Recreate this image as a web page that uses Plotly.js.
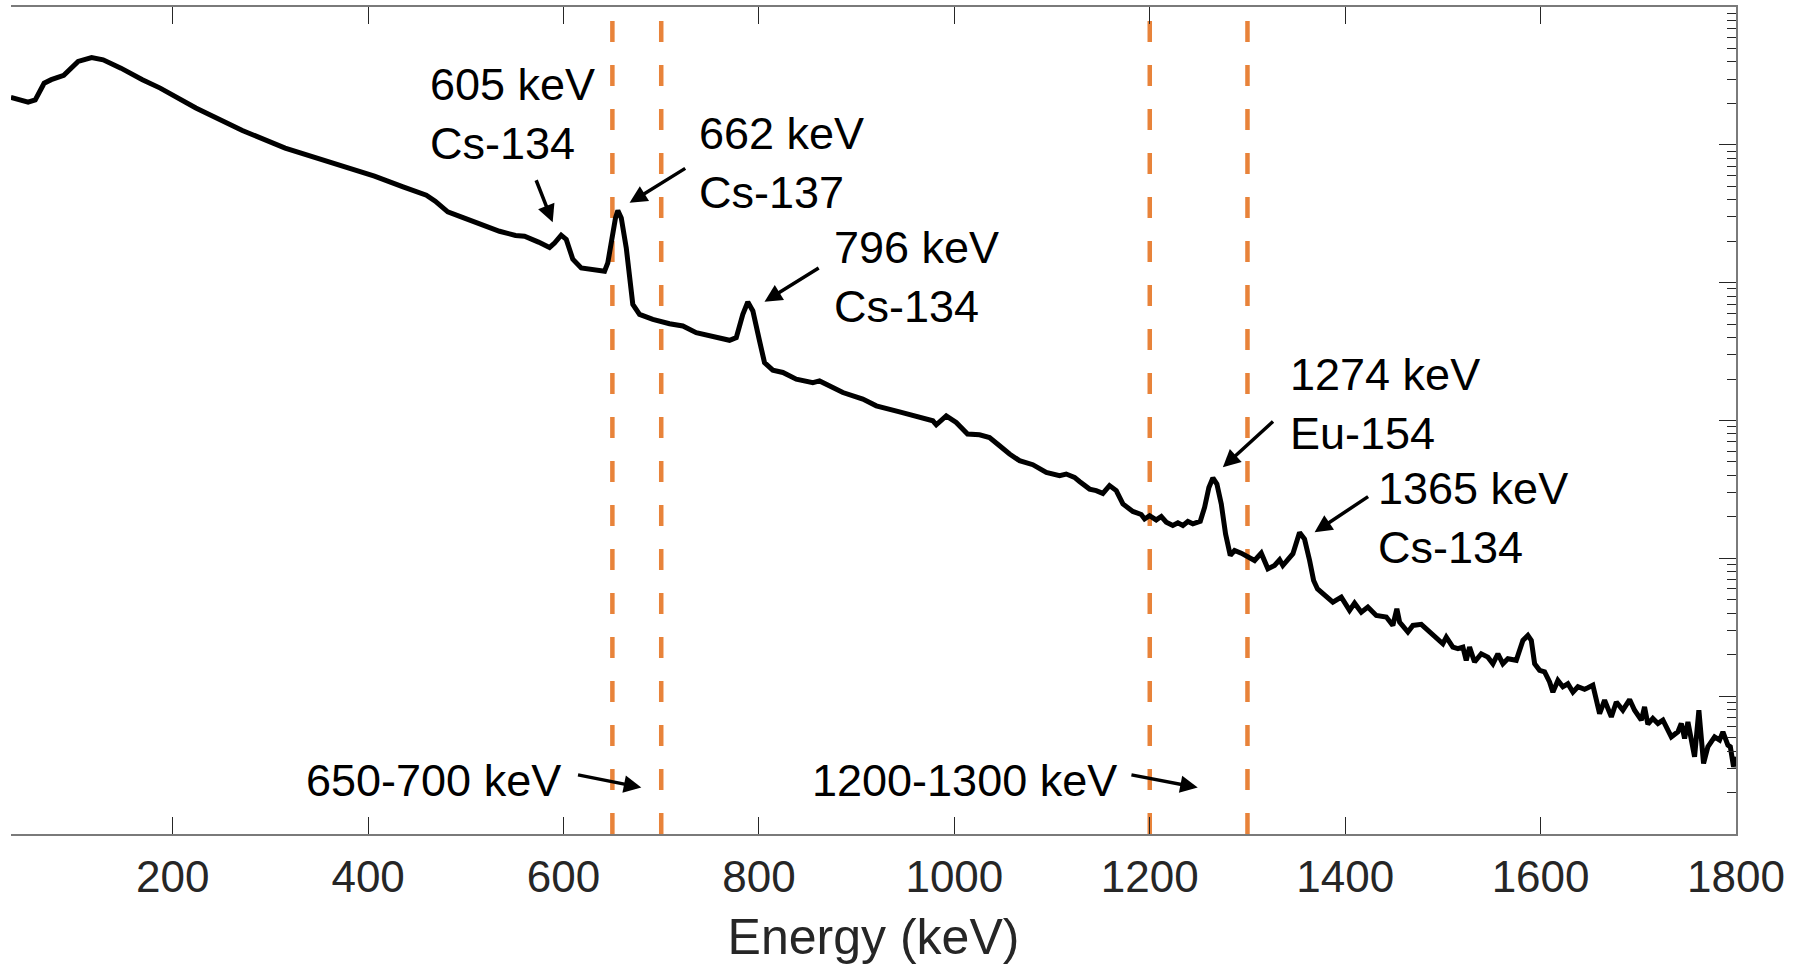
<!DOCTYPE html>
<html><head><meta charset="utf-8">
<script src="https://cdn.plot.ly/plotly-3.0.1.min.js"></script>
<style>html,body{margin:0;padding:0;background:#fff;} #chart{width:1796px;height:967px;}</style>
</head><body><div id="chart"></div>
<script>
// Energy (keV) and counts (arbitrary log-scale units)
const energy = [
 34.4, 52.0, 59.3, 68.4, 75.7, 88.5, 103.2, 117.0, 128.8, 147.0,
 169.0, 187.2, 223.7, 271.3, 315.1, 359.1, 406.5, 435.8, 459.6, 468.7,
 481.5, 497.9, 516.2, 534.5, 550.9, 560.1,
 574.4, 585.7, 590.8, 597.6, 602.8, 609.5, 618.1, 628.4, 636.8, 642.0,
 645.3, 648.8, 653.2, 655.6, 659.1, 664.2, 667.6, 670.9, 677.8, 691.4,
 708.5, 722.1, 735.8, 752.8, 769.9, 776.8, 783.5, 788.6, 793.8, 800.6,
 805.7, 814.2, 824.5, 838.2, 855.2, 862.0, 872.3, 885.9, 906.3, 920.1,
 943.9, 959.3, 978.0, 981.5, 991.7, 1001.9, 1013.5, 1025.8, 1036.0, 1046.3,
 1056.5, 1066.7, 1080.3, 1094.1, 1107.7, 1114.5, 1123.0, 1128.1, 1138.4, 1145.2,
 1152.0, 1158.8, 1165.7, 1172.5, 1182.7, 1191.3, 1194.7, 1199.8, 1206.6, 1211.8,
 1216.9, 1223.6, 1228.8, 1233.9, 1239.0, 1244.1, 1251.7, 1256.1, 1260.5, 1264.6,
 1268.7, 1273.2, 1277.6, 1282.4, 1286.8, 1293.6, 1302.2, 1307.3, 1314.1, 1320.9,
 1327.7, 1332.9, 1336.2, 1346.5, 1353.3, 1358.4, 1363.6, 1367.7, 1371.7, 1378.9,
 1387.4, 1396.0, 1401.1, 1404.5, 1409.6, 1416.5, 1423.2, 1431.8, 1442.1, 1448.8,
 1452.9, 1455.7, 1464.2, 1469.3, 1477.9, 1484.6, 1493.2, 1500.0, 1503.5, 1510.2,
 1515.4, 1520.5, 1523.9, 1527.3, 1532.4, 1539.3, 1546.1, 1551.2, 1556.3, 1561.4,
 1566.5, 1575.1, 1581.9, 1587.0, 1590.5, 1593.9, 1599.0, 1604.1, 1609.2, 1612.6,
 1617.7, 1622.8, 1627.9, 1633.1, 1638.2, 1645.0, 1648.4, 1653.5, 1660.4, 1665.5,
 1672.4, 1677.5, 1684.2, 1691.1, 1696.2, 1703.1, 1706.4, 1709.8, 1714.9, 1720.1,
 1725.2, 1733.8, 1740.5, 1744.0, 1747.4, 1750.8, 1757.6, 1762.0, 1766.8, 1771.2,
 1778.1, 1783.2, 1786.6, 1791.7, 1794.2, 1797.5, 1800.0
];
const counts = [
 221000, 204000, 212000, 280000, 297000, 319000, 403000, 430000, 414000, 360000,
 297000, 258000, 185000, 127000, 94800, 76000, 59200, 49500, 43100, 39000,
 32600, 29500, 26100, 23600, 22000, 21700,
 19700, 18000, 19400, 22100, 20600, 14800, 12800, 12500, 12300, 12100,
 13900, 20000, 29500, 33400, 29500, 17900, 10300, 6970, 5890, 5420,
 5040, 4850, 4340, 4100, 3820, 3990, 5890, 7240, 6230, 3780,
 2630, 2320, 2230, 1995, 1884, 1938, 1783, 1595, 1429, 1277,
 1156, 1081, 995, 931, 1081, 968, 798, 787, 753, 656,
 571, 511, 478, 420, 398, 409, 387, 361, 318, 310,
 296, 337, 310, 248, 219, 208, 193, 204, 190, 201,
 183, 173, 181, 173, 185, 178, 186, 234, 327, 383,
 346, 248, 150, 105, 114, 109, 102, 96.4, 109, 83.9,
 88.7, 97.5, 88.7, 108, 154, 138, 96.4, 69.0, 59.9, 53.8,
 48.1, 52.3, 45.5, 41.9, 47.3, 40.7, 44.3, 38.5, 37.5, 32.6,
 43.1, 34.5, 29.2, 32.6, 33.2, 30.0, 26.1, 24.0, 26.8, 22.7,
 22.1, 22.7, 18.2, 22.7, 17.7, 20.3, 19.2, 17.2, 20.3, 17.2,
 18.7, 18.2, 25.4, 27.6, 25.4, 17.2, 15.4, 15.0, 12.7, 10.7,
 13.0, 11.7, 12.3, 10.7, 11.7, 11.2, 11.5, 12.0, 7.48, 9.34,
 7.07, 9.08, 7.91, 9.45, 7.91, 6.69, 8.35, 6.26, 6.89, 6.34,
 6.69, 5.07, 5.51, 6.34, 4.93, 6.50, 3.63, 7.91, 3.25, 4.29,
 5.07, 4.80, 5.51, 4.41, 4.29, 3.07, 3.63
];
const windowEdges = [650, 700, 1200, 1300];
const xTicks = [200, 400, 600, 800, 1000, 1200, 1400, 1600, 1800];
const peakLabels = ["605 keV<br>Cs-134", "662 keV<br>Cs-137", "796 keV<br>Cs-134", "1274 keV<br>Eu-154", "1365 keV<br>Cs-134"];
const windowLabels = ["650-700 keV", "1200-1300 keV"];

const FONT = "Liberation Sans, Arial, Helvetica, sans-serif";
const ORANGE = "#E8833A";

// label placement (x in keV, y in log10 counts)
const peakLabelPos = [[461, 5.225], [737, 4.87], [875, 4.04], [1341, 3.117], [1432, 2.296]];
const peakArrows = [
  {head: [588.9, 4.438], tail: [571.4, 4.754]},
  {head: [667.6, 4.579], tail: [726.1, 4.836]},
  {head: [805.7, 3.862], tail: [862.7, 4.113]},
  {head: [1274.8, 2.660], tail: [1327.7, 3.003]},
  {head: [1368.7, 2.189], tail: [1425.0, 2.455]}
];
const windowLabelPos = [[599, 0.391], [1168, 0.391]];
const windowArrows = [
  {head: [679.6, 0.337], tail: [613.3, 0.431]},
  {head: [1249.1, 0.337], tail: [1179.7, 0.431]}
];

const annotations = [];
peakLabels.forEach((t, i) => annotations.push({
  x: peakLabelPos[i][0], y: peakLabelPos[i][1], xref: 'x', yref: 'y',
  text: t, showarrow: false, xanchor: 'left', yanchor: 'middle', align: 'left',
  font: {family: FONT, size: 45, color: '#000'}
}));
windowLabels.forEach((t, i) => annotations.push({
  x: windowLabelPos[i][0], y: windowLabelPos[i][1], xref: 'x', yref: 'y',
  text: t, showarrow: false, xanchor: 'right', yanchor: 'middle',
  font: {family: FONT, size: 45, color: '#000'}
}));
peakArrows.concat(windowArrows).forEach(a => annotations.push({
  x: a.head[0], y: a.head[1], ax: a.tail[0], ay: a.tail[1],
  xref: 'x', yref: 'y', axref: 'x', ayref: 'y', text: '',
  showarrow: true, arrowhead: 2, arrowsize: 1, arrowwidth: 3.5,
  arrowcolor: '#000', standoff: 0, startstandoff: 0
}));

const shapes = windowEdges.map(e => ({
  type: 'line', xref: 'x', yref: 'paper', x0: e, x1: e, y0: 0, y1: 0.985,
  layer: 'below', line: {color: ORANGE, width: 4.5, dash: '21px,23px'}
}));

const trace = {
  x: energy, y: counts, type: 'scatter', mode: 'lines',
  line: {color: '#000', width: 5}, hoverinfo: 'x+y', showlegend: false
};

const layout = {
  width: 1796, height: 967,
  margin: {l: 11, r: 60, t: 5, b: 133, pad: 0},
  paper_bgcolor: '#fff', plot_bgcolor: '#fff',
  font: {family: FONT, color: '#262626'},
  showlegend: false,
  xaxis: {
    range: [34.5, 1800], tickvals: xTicks, ticktext: xTicks.map(String),
    ticks: 'inside', ticklen: 17, tickwidth: 1, tickcolor: '#262626',
    showline: true, linecolor: '#7a7a7a', linewidth: 2, mirror: 'ticks',
    showgrid: false, zeroline: false, ticklabelstandoff: 3,
    tickfont: {family: FONT, size: 44, color: '#262626'},
    title: {text: 'Energy (keV)', font: {family: FONT, size: 50, color: '#262626'}, standoff: 19},
    automargin: true
  },
  yaxis: {
    type: 'log', range: [0, 6], side: 'right', dtick: 1,
    ticks: 'inside', ticklen: 17, tickwidth: 1, tickcolor: '#262626',
    showticklabels: false, showline: true, linecolor: '#7a7a7a', linewidth: 2,
    mirror: false, showgrid: false, zeroline: false, automargin: false,
    minor: {ticks: 'inside', ticklen: 9, tickwidth: 1, tickcolor: '#262626', dtick: 'D1', showgrid: false}
  },
  annotations: annotations,
  shapes: shapes
};

Plotly.newPlot('chart', [trace], layout, {staticPlot: true, displayModeBar: false});
</script>
</body></html>
